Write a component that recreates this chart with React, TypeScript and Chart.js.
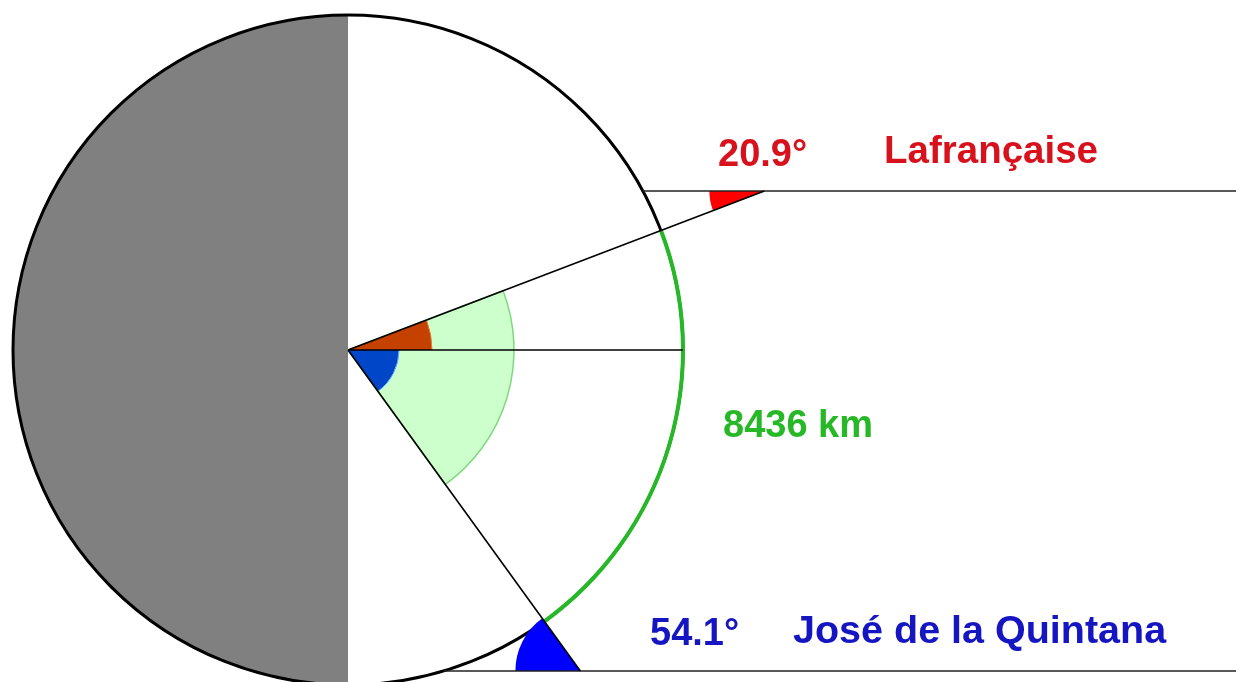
import React, { useEffect, useRef } from "react";
import { Chart, registerables } from "chart.js";

Chart.register(...registerables);

// ---- data ----
const EARTH_RADIUS = 335; // diagram units
const PLACES = ["Lafrançaise", "José de la Quintana"];
const SUN_ELEVATIONS = [20.9, 54.1]; // degrees
const RAY_HEIGHTS = [159, -321]; // height of each sun ray above Earth's centre
const ANGLE_LABELS = ["20.9°", "54.1°"];
const ARC_LENGTH_LABEL = "8436 km";
const RAY_END_X = 888;

// ---- layout / style ----
const X_RANGE = [-348, 894];
const Y_RANGE = [-332, 350];
const W = 1242;
const H = 682;
const font = (size: number) => `bold ${size}px "Liberation Sans", Arial, sans-serif`;
const PLACE_FONT_SIZES = [38.5, 39.5];
const PLACE_COLORS = ["#d8121c", "#1515c2"];
const ARC_COLOR = "#27b827";
const CENTER_WEDGE_COLORS = ["#c44100", "#0046c8"];
const CENTER_WEDGE_EDGES = ["#e08040", "#66aaff"];
const OUTER_WEDGE_COLORS = ["#ff0000", "#0000ff"];
const CENTER_WEDGE_RADII = [84, 51];
const OUTER_WEDGE_RADII = [55, 65];
const SECTOR_RADIUS = 166;
const ANGLE_LABEL_POS = [
  [370, 184],
  [302, -295],
];
const PLACE_LABEL_POS = [
  [536, 187],
  [445, -293],
];
const ARC_LABEL_POS = [375, -87];

const rad = (d: number) => (d * Math.PI) / 180;
const signedAngle = (i: number) => Math.sign(RAY_HEIGHTS[i]) * SUN_ELEVATIONS[i];
const hitPoint = (i: number) => ({
  x: RAY_HEIGHTS[i] / Math.tan(rad(signedAngle(i))),
  y: RAY_HEIGHTS[i],
});

const diagramPlugin = {
  id: "earthDiagram",
  beforeDatasetsDraw(chart: any) {
    const { ctx, scales } = chart;
    const xs = scales.x;
    const ys = scales.y;
    const px = (v: number) => xs.getPixelForValue(v);
    const py = (v: number) => ys.getPixelForValue(v);
    const pr = (v: number) => px(v) - px(0);
    const cx = px(0);
    const cy = py(0);
    const R = pr(EARTH_RADIUS);
    const ca = (deg: number) => -rad(deg);

    ctx.save();
    // night half
    ctx.beginPath();
    ctx.moveTo(cx, cy - R);
    ctx.arc(cx, cy, R, Math.PI / 2, (3 * Math.PI) / 2);
    ctx.closePath();
    ctx.fillStyle = "#808080";
    ctx.fill();

    const a0 = signedAngle(0);
    const a1 = signedAngle(1);

    // light green sector
    ctx.beginPath();
    ctx.moveTo(cx, cy);
    ctx.arc(cx, cy, pr(SECTOR_RADIUS), ca(a0), ca(a1));
    ctx.closePath();
    ctx.fillStyle = "#ccffcc";
    ctx.fill();
    ctx.strokeStyle = "#80d880";
    ctx.lineWidth = 1.5;
    ctx.stroke();

    // centre wedges
    for (let i = 0; i < PLACES.length; i++) {
      const a = signedAngle(i);
      ctx.beginPath();
      ctx.moveTo(cx, cy);
      const s = Math.min(ca(0), ca(a));
      const e = Math.max(ca(0), ca(a));
      ctx.arc(cx, cy, pr(CENTER_WEDGE_RADII[i]), s, e);
      ctx.closePath();
      ctx.fillStyle = CENTER_WEDGE_COLORS[i];
      ctx.fill();
      ctx.beginPath();
      ctx.arc(cx, cy, pr(CENTER_WEDGE_RADII[i]), s, e);
      ctx.strokeStyle = CENTER_WEDGE_EDGES[i];
      ctx.lineWidth = 1;
      ctx.stroke();
    }

    // earth outline
    ctx.beginPath();
    ctx.arc(cx, cy, R, 0, Math.PI * 2);
    ctx.strokeStyle = "#000";
    ctx.lineWidth = 3;
    ctx.stroke();

    // green arc between the two places
    ctx.beginPath();
    ctx.arc(cx, cy, R, ca(a0), ca(a1));
    ctx.strokeStyle = ARC_COLOR;
    ctx.lineWidth = 4;
    ctx.stroke();

    // wedges where sun rays meet the radial lines
    for (let i = 0; i < PLACES.length; i++) {
      const p = hitPoint(i);
      const x = px(p.x);
      const y = py(p.y);
      const a = signedAngle(i);
      const s1 = ca(180);
      const s2 = ca(180 + a);
      ctx.beginPath();
      ctx.moveTo(x, y);
      ctx.arc(x, y, pr(OUTER_WEDGE_RADII[i]), Math.min(s1, s2), Math.max(s1, s2));
      ctx.closePath();
      ctx.fillStyle = OUTER_WEDGE_COLORS[i];
      ctx.fill();
    }
    ctx.restore();
  },
  afterDatasetsDraw(chart: any) {
    const { ctx, scales } = chart;
    const px = (v: number) => scales.x.getPixelForValue(v);
    const py = (v: number) => scales.y.getPixelForValue(v);
    ctx.save();
    ctx.textAlign = "left";
    ctx.textBaseline = "alphabetic";
    for (let i = 0; i < PLACES.length; i++) {
      ctx.fillStyle = PLACE_COLORS[i];
      ctx.font = font(38);
      ctx.fillText(ANGLE_LABELS[i], px(ANGLE_LABEL_POS[i][0]), py(ANGLE_LABEL_POS[i][1]));
      ctx.font = font(PLACE_FONT_SIZES[i]);
      ctx.fillText(PLACES[i], px(PLACE_LABEL_POS[i][0]), py(PLACE_LABEL_POS[i][1]));
    }
    ctx.font = font(38);
    ctx.fillStyle = ARC_COLOR;
    ctx.fillText(ARC_LENGTH_LABEL, px(ARC_LABEL_POS[0]), py(ARC_LABEL_POS[1]));
    ctx.restore();
  },
};

function buildDatasets() {
  const line = (pts: { x: number; y: number }[], color = "#000", width = 1.5) => ({
    data: pts,
    showLine: true,
    borderColor: color,
    backgroundColor: color,
    borderWidth: width,
    pointRadius: 0,
    fill: false,
  });
  const sets: any[] = [line([{ x: 0, y: 0 }, { x: EARTH_RADIUS, y: 0 }], "#000", 1.7)];
  for (let i = 0; i < PLACES.length; i++) {
    const h = RAY_HEIGHTS[i];
    const p = hitPoint(i);
    sets.push(line([{ x: 0, y: 0 }, p], "#000", 1.6));
    sets.push(
      line(
        [
          { x: Math.sqrt(EARTH_RADIUS * EARTH_RADIUS - h * h), y: h },
          { x: RAY_END_X, y: h },
        ],
        "#222",
        1.5
      )
    );
  }
  return sets;
}

export default function App() {
  const ref = useRef<HTMLCanvasElement | null>(null);
  useEffect(() => {
    if (!ref.current) return;
    const chart = new Chart(ref.current, {
      type: "scatter",
      data: { datasets: buildDatasets() },
      options: {
        animation: false,
        responsive: false,
        devicePixelRatio: 1,
        layout: { padding: 0 },
        plugins: { legend: { display: false }, tooltip: { enabled: false }, title: { display: false } },
        scales: {
          x: { type: "linear", display: false, min: X_RANGE[0], max: X_RANGE[1] },
          y: { type: "linear", display: false, min: Y_RANGE[0], max: Y_RANGE[1] },
        },
      },
      plugins: [diagramPlugin],
    });
    return () => chart.destroy();
  }, []);
  return (
    <div style={{ position: "fixed", left: 0, top: 0, width: W, height: H, background: "#fff" }}>
      <canvas ref={ref} width={W} height={H} style={{ display: "block", width: W, height: H }} />
    </div>
  );
}
